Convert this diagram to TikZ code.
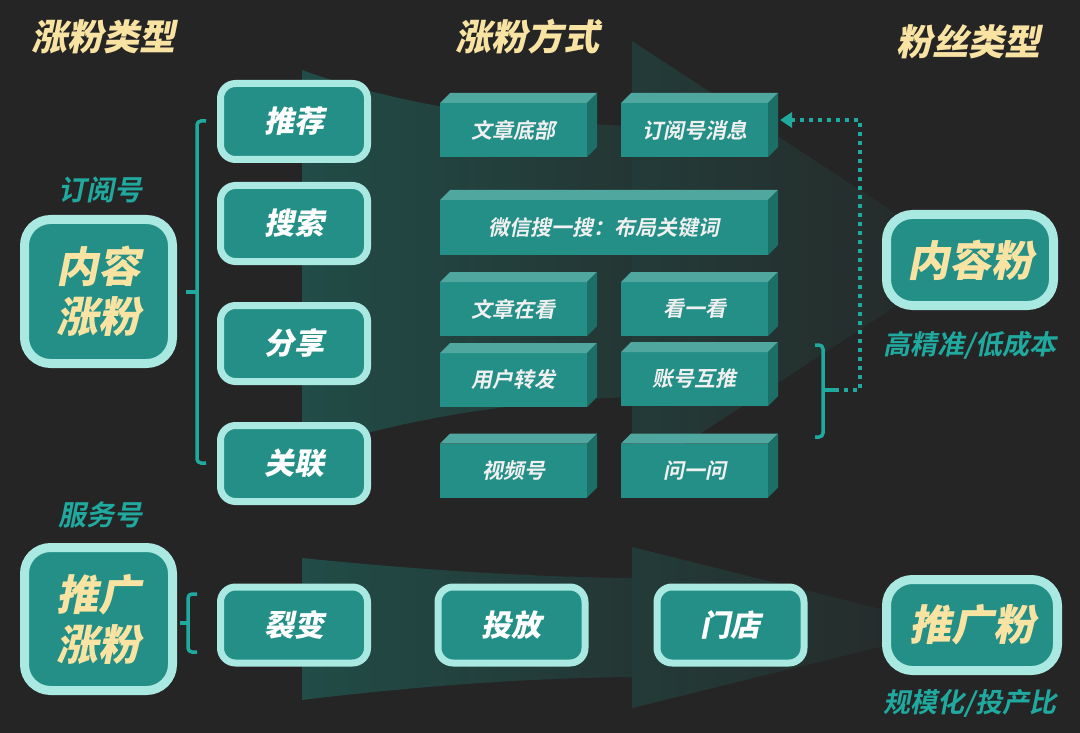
\documentclass[tikz,border=0pt]{standalone}
\usepackage{fontspec}
\setmainfont{Noto Sans CJK SC}[BoldFont=* Bold, BoldFeatures={FakeSlant=0.2}]
\newfontfamily\heavy{Noto Sans CJK SC Black}[FakeSlant=0.2]
\usetikzlibrary{arrows.meta}
\definecolor{bgc}{HTML}{252525}
\definecolor{tealf}{HTML}{238F86}
\definecolor{edgec}{HTML}{A9E9E2}
\definecolor{yel}{HTML}{F9E3A3}
\definecolor{tealtxt}{HTML}{20A99F}
\definecolor{cubetop}{HTML}{4FA79F}
\definecolor{cubeside}{HTML}{1C6F67}
\definecolor{tailA}{HTML}{214C47}
\definecolor{tailB}{HTML}{243634}
\definecolor{headA}{HTML}{233B38}
\definecolor{headB}{HTML}{262928}
\begin{document}
\begin{tikzpicture}[x=1pt, y=-1pt,
		box/.style = {draw=edgec, line width=7pt, fill=tealf, rounded corners=15pt, minimum width=147pt, minimum height=76pt, text=white, font=\heavy\fontsize{30}{30}\selectfont},
		type/.style = {box, line width=9pt, rounded corners=26pt, text=yel, font=\heavy\fontsize{42}{50}\selectfont, align=center},
		cube/.style = {fill=tealf, minimum width=147pt, minimum height=54pt, inner sep=0pt, outer sep=0pt, text=white!94!black, font=\bfseries\fontsize{21}{21}\selectfont},
		title/.style = {text=yel, font=\heavy\fontsize{36}{36}\selectfont},
		sub/.style = {text=tealtxt, font=\bfseries\fontsize{28}{28}\selectfont},
		brace/.style = {draw=tealtxt, line width=3.5pt, rounded corners=4pt},
		dotline/.style = {draw=tealtxt, line width=4pt, dash pattern=on 4pt off 5pt}]
		\fill[bgc] (0,0) rectangle (1080,733);
		\useasboundingbox (0,0) rectangle (1080,733);
		% flow arrows behind
		\shade[left color=tailA, right color=tailB] (302,70) .. controls (400,106) and (520,122) .. (632,126) -- (632,397) .. controls (520,401) and (400,418) .. (302,453) -- cycle;
		\shade[left color=headA, right color=headB] (632,41) -- (967,260) -- (632,478) -- cycle;
		\shade[left color=tailA, right color=tailB] (302,558) .. controls (400,568) and (520,577) .. (632,578) -- (632,677) .. controls (520,678) and (400,688) .. (302,700) -- cycle;
		\shade[left color=headA, right color=headB] (632,547) -- (957,628) -- (632,708) -- cycle;
		% titles
		\node[title] (t1) at (103,37) {涨粉类型};
		\node[title] (t2) at (527,37) {涨粉方式};
		\node[title] (t3) at (968,42) {粉丝类型};
		% left
		\node[sub] (dyh) at (100,190) {订阅号};
		\node[type, minimum width=148pt, minimum height=144pt] (nrzf) at (98.5,291.5) {内容\\涨粉};
		\node[sub] (fwh) at (100,515) {服务号};
		\node[type, minimum width=148pt, minimum height=143pt] (tgzf) at (98.5,619) {推广\\涨粉};
		% middle column
		\node[box] (tj) at (294,121.5) {推荐};
		\node[box] (ss) at (294,223.5) {搜索};
		\node[box] (fx) at (294,343.5) {分享};
		\node[box] (gl) at (294,463.5) {关联};
		\node[box] (lb) at (294,625) {裂变};
		\node[box] (tf) at (511.5,625) {投放};
		\node[box] (md) at (730.5,625) {门店};
		% ways
		\node[cube] (wzdb) at (513.5,130) {文章底部};
		\node[cube] (dyxx) at (694.5,130) {订阅号消息};
		\node[cube, minimum width=328pt, minimum height=55pt] (wxss) at (604,227.5) {微信搜一搜：布局关键词};
		\node[cube] (wzzk) at (513.5,309) {文章在看};
		\node[cube] (kyk) at (694.5,309) {看一看};
		\node[cube] (yhzf) at (513.5,380) {用户转发};
		\node[cube] (zhht) at (694.5,379) {账号互推};
		\node[cube] (sph) at (513.5,470.5) {视频号};
		\node[cube] (wyw) at (694.5,470.5) {问一问};
		\foreach \n in {wzdb,dyxx,wxss,wzzk,kyk,yhzf,zhht,sph,wyw} {
			\fill[cubetop] (\n.north west) -- ++(10,-10) -- ([shift={(10,-10)}]\n.north east) -- (\n.north east) -- cycle;
			\fill[cubeside] (\n.north east) -- ++(10,-10) -- ([shift={(10,-10)}]\n.south east) -- (\n.south east) -- cycle;
		}
		% fans
		\node[type, minimum width=167pt, minimum height=91pt] (nrf) at (970,260) {内容粉};
		\node[sub, font=\bfseries\fontsize{27}{27}\selectfont] (gjz) at (970,345) {高精准/低成本};
		\node[type, minimum width=171pt, minimum height=91pt] (tgf) at (972,625) {推广粉};
		\node[sub, font=\bfseries\fontsize{27}{27}\selectfont] (gmh) at (970,703) {规模化/投产比};
		% braces
		\draw[brace] (206,121) -| (197,463) -- (206,463);
		\draw[brace] (197,292) -- (186,292);
		\draw[brace] (197,594) -| (188,652) -- (197,652);
		\draw[brace] (188,623) -- (180,623);
		\draw[brace] (815,345) -| (823,437) -- (815,437);
		\coordinate (rtip) at (835,390);
		\coordinate (dyin) at ([shift={(12,-10)}]dyxx.east);
		\draw[brace] (823,390) -- (rtip);
		\draw[dotline, -{Triangle[length=12pt, width=15pt]}] (rtip) -- (860,390) |- (dyin);
	\end{tikzpicture}
\end{document}
